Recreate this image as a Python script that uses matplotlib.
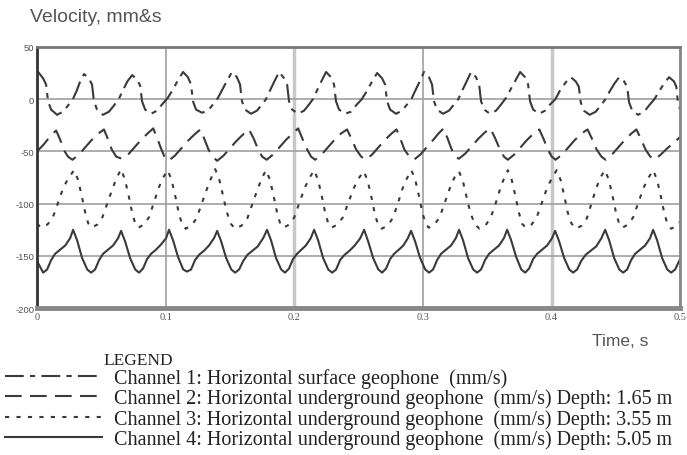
import numpy as np
import matplotlib
matplotlib.use("Agg")
import matplotlib.pyplot as plt

# time in ms, velocity in mm/s
t1_ms = [0, 0.8, 4.6, 7.0, 8.5, 10.9, 15.5, 20.2, 24.1, 27.8, 30.8, 33.5,
         36.5, 40.3, 42.7, 44.2, 46.6, 51.2, 55.9, 59.8, 63.5, 66.5, 70.2,
         73.9, 77.7, 80.1, 81.6, 84.0, 88.6, 93.3, 97.2, 101.5, 105.5, 109.5,
         113.5, 117.3, 119.7, 121.2, 123.6, 128.2, 132.9, 136.8, 140.5, 144.0, 147.8,
         151.6, 155.4, 157.8, 159.3, 161.7, 166.3, 171.0, 174.9, 178.0, 181.0, 184.5,
         188.2, 192.0, 194.4, 195.9, 198.3, 202.9, 207.6, 211.5, 214.5, 217.5, 221.0,
         224.7, 228.5, 230.9, 232.4, 234.8, 239.4, 244.1, 248.0, 252.5, 256.5, 260.5,
         264.4, 268.2, 270.6, 272.1, 274.5, 279.1, 283.8, 287.7, 291.0, 294.0, 297.5,
         300.9, 304.7, 307.1, 308.6, 311.0, 315.6, 320.3, 324.2, 327.5, 330.5, 334.0,
         337.5, 341.3, 343.7, 345.2, 347.6, 352.2, 356.9, 360.8, 364.5, 368.0, 372.0,
         375.6, 379.4, 381.8, 383.3, 385.7, 390.3, 395.0, 398.9, 403.0, 406.5, 411.0,
         415.0, 418.8, 421.2, 422.7, 425.1, 429.7, 434.4, 438.3, 442.0, 445.0, 449.0,
         452.6, 456.4, 458.8, 460.3, 462.7, 467.3, 472.0, 475.9, 480.0, 483.5, 487.5,
         491.4, 495.2, 497.0, 498.3, 500.0]
v1 = [25, 26, 20, 14, -2, -10, -15, -12, -6, 0, 8, 17,
      24, 20, 14, -2, -10, -15, -12, -6, 0, 8, 17,
      23, 19, 13, -2, -10, -14, -11, -5, 1, 9, 18,
      26, 21, 14, -2, -10, -13, -11, -5, 1, 9, 18,
      26, 21, 14, -2, -10, -14, -11, -5, 0, 8, 17,
      26, 20, 14, -2, -10, -14, -11, -5, 0, 8, 17,
      26, 21, 14, -2, -10, -14, -12, -6, 0, 8, 17,
      25, 20, 14, -2, -10, -14, -11, -5, 0, 8, 17,
      26, 21, 14, -2, -10, -14, -11, -5, 0, 8, 17,
      26, 21, 14, -2, -10, -14, -11, -5, 1, 9, 18,
      26, 21, 14, -2, -10, -14, -11, -5, 0, 8, 16,
      21, 17, 12, -3, -11, -15, -12, -6, 0, 7, 15,
      21, 17, 12, -3, -11, -15, -12, -6, 0, 7, 15,
      21, 17, 12, -3, -10]

t2_ms = [0, 5.4, 10.5, 14.8, 18.0, 21.0, 24.0,
         27.5, 32.5, 37.5, 42.5, 47.5, 52.0, 55.0, 58.0, 61.5,
         65.8, 70.8, 75.8, 80.8, 85.8, 90.3, 93.3, 96.3, 99.0,
         102.2, 107.2, 112.2, 117.2, 122.2, 127.0, 130.0, 133.2, 136.5,
         140.0, 145.0, 150.0, 155.0, 160.0, 164.8, 168.5, 171.8, 175.0,
         178.5, 183.5, 188.5, 193.5, 198.5, 203.0, 206.0, 209.5, 213.0,
         216.2, 221.2, 226.2, 231.2, 236.2, 241.0, 244.5, 248.0, 252.0,
         255.5, 260.5, 265.5, 270.5, 275.5, 279.5, 282.5, 285.5, 289.5,
         293.0, 298.0, 303.0, 308.0, 312.0, 316.0, 319.0, 322.0, 325.0,
         328.0, 333.0, 338.0, 343.0, 348.0, 352.5, 356.0, 359.5, 363.0,
         366.0, 371.0, 376.0, 381.0, 386.0, 390.5, 393.8, 397.0, 400.2,
         403.2, 408.2, 413.2, 418.2, 423.2, 428.0, 431.5, 435.0, 438.8,
         442.0, 447.0, 452.0, 457.0, 462.0, 466.0, 469.5, 473.0, 476.8,
         480.0, 485.0, 490.0, 495.0, 500.0]
v2 = [-50, -43, -35, -30, -39, -49, -55,
      -58, -53, -46, -39, -33, -29, -38, -48, -55,
      -57, -53, -46, -39, -33, -28, -37, -47, -55,
      -59, -54, -47, -40, -34, -29, -38, -48, -55,
      -59, -54, -47, -40, -34, -29, -38, -48, -55,
      -58, -53, -46, -39, -33, -28, -37, -47, -55,
      -58, -53, -46, -39, -33, -29, -38, -48, -55,
      -58, -53, -46, -39, -33, -29, -38, -48, -55,
      -58, -53, -46, -39, -33, -28, -37, -47, -55,
      -57, -52, -45, -38, -32, -28, -37, -47, -55,
      -58, -53, -46, -39, -33, -29, -38, -48, -55,
      -58, -53, -46, -39, -33, -29, -38, -48, -55,
      -58, -53, -46, -39, -33, -29, -38, -48, -55,
      -58, -53, -47, -42, -36]

t3_ms = [0, 3.1, 8.0, 12.0, 16.0, 20.0, 24.5,
         28.8, 31.8, 34.8, 37.3, 39.8, 42.3, 46.8, 50.8, 54.8, 58.8, 62.0,
         65.3, 68.3, 71.3, 73.8, 76.3, 78.8, 83.0, 87.0, 90.8, 94.5, 98.0,
         101.5, 104.5, 107.5, 110.0, 112.5, 115.5, 120.0, 124.0, 128.0, 132.0, 135.5,
         138.5, 141.5, 144.5, 147.5, 150.5, 154.0, 159.0, 163.5, 167.5, 171.5, 175.0,
         178.0, 181.0, 184.0, 186.5, 189.0, 191.5, 196.0, 200.0, 204.0, 208.0, 212.0,
         215.4, 218.4, 221.4, 223.9, 226.4, 228.9, 233.5, 237.8, 242.0, 246.3, 250.5,
         254.0, 257.0, 260.0, 262.5, 265.0, 268.0, 272.5, 276.5, 280.5, 284.0, 287.5,
         291.0, 294.0, 297.0, 299.5, 302.0, 304.5, 309.0, 313.0, 317.0, 321.0, 324.5,
         328.0, 331.0, 334.0, 337.0, 340.5, 344.0, 348.5, 352.5, 356.5, 360.0, 363.0,
         366.0, 369.0, 372.0, 374.5, 377.0, 380.0, 384.5, 388.5, 392.5, 396.5, 400.5,
         404.0, 407.0, 410.0, 412.5, 415.5, 419.0, 423.5, 427.5, 431.0, 434.5, 438.0,
         441.5, 444.5, 447.5, 450.0, 452.5, 455.0, 459.5, 463.5, 467.5, 471.5, 475.5,
         479.0, 482.0, 485.0, 487.5, 490.0, 493.0, 497.5, 500.0]
v3 = [-119, -123, -120, -114, -100, -86, -75,
      -68, -77, -93, -108, -119, -123, -120, -113, -99, -85, -75,
      -67, -77, -93, -108, -119, -123, -120, -113, -99, -85, -75,
      -68, -77, -93, -108, -119, -124, -121, -114, -100, -86, -75,
      -67, -76, -92, -108, -119, -124, -121, -114, -100, -86, -75,
      -68, -77, -93, -108, -119, -123, -120, -113, -99, -85, -75,
      -68, -77, -93, -108, -119, -123, -120, -113, -99, -85, -75,
      -69, -78, -94, -109, -120, -124, -121, -114, -100, -86, -76,
      -68, -77, -93, -108, -119, -123, -120, -113, -99, -85, -75,
      -69, -78, -94, -109, -120, -124, -121, -114, -100, -86, -76,
      -68, -77, -93, -108, -119, -123, -120, -113, -99, -85, -75,
      -68, -77, -93, -108, -119, -124, -121, -114, -100, -86, -75,
      -68, -77, -93, -108, -119, -123, -120, -113, -99, -85, -75,
      -68, -77, -93, -108, -119, -124, -121, -117]

t4_ms = [0, 4.7, 7.8, 10.9, 14.0, 17.9, 21.9, 25.7,
         28.0, 31.1, 35.0, 39.0, 42.0, 45.1, 48.2, 51.3, 55.2, 59.1, 63.0,
         65.3, 68.4, 72.3, 76.3, 79.3, 82.4, 85.5, 88.6, 92.5, 96.4, 100.3,
         102.6, 105.7, 109.6, 113.6, 116.6, 119.7, 122.8, 125.9, 129.8, 133.7, 137.6,
         140.0, 143.1, 147.0, 151.0, 154.0, 157.1, 160.2, 163.5, 167.5, 171.5, 175.8,
         178.8, 181.9, 185.8, 189.8, 192.8, 195.9, 199.0, 202.1, 205.5, 209.0, 212.8,
         215.4, 218.5, 222.4, 226.4, 229.4, 232.5, 235.6, 239.0, 243.0, 247.0, 251.3,
         254.3, 257.4, 261.3, 265.3, 268.3, 271.4, 274.5, 277.6, 281.3, 284.8, 288.3,
         290.8, 293.9, 297.8, 301.8, 304.8, 307.9, 311.0, 314.1, 318.0, 321.9, 325.6,
         328.1, 331.2, 335.1, 339.1, 342.1, 345.2, 348.3, 351.4, 355.3, 359.2, 363.0,
         365.5, 368.6, 372.5, 376.5, 379.5, 382.6, 385.7, 388.8, 392.7, 396.6, 400.4,
         402.8, 405.9, 409.8, 413.8, 416.8, 419.9, 423.0, 426.5, 430.5, 434.7, 438.8,
         441.7, 444.8, 448.7, 452.7, 455.7, 458.8, 461.9, 465.0, 468.9, 472.8, 476.6,
         479.0, 482.1, 486.0, 490.0, 493.0, 496.1, 499.2, 500.0]
v4 = [-155, -166, -163, -154, -148, -144, -140, -133,
      -125, -135, -152, -163, -166, -163, -154, -148, -144, -140, -133,
      -126, -136, -152, -163, -166, -162, -153, -148, -144, -139, -133,
      -125, -135, -151, -163, -165, -163, -154, -149, -145, -140, -133,
      -126, -136, -152, -163, -166, -163, -155, -149, -145, -141, -133,
      -125, -135, -152, -163, -166, -162, -153, -148, -144, -140, -133,
      -125, -135, -152, -163, -166, -163, -154, -149, -145, -140, -133,
      -125, -136, -152, -163, -166, -162, -153, -148, -144, -140, -133,
      -126, -136, -152, -163, -166, -163, -154, -148, -144, -140, -133,
      -125, -135, -152, -163, -166, -163, -154, -148, -144, -140, -133,
      -125, -135, -151, -163, -166, -162, -153, -148, -144, -140, -133,
      -126, -136, -152, -163, -166, -163, -155, -149, -145, -141, -133,
      -125, -135, -152, -163, -166, -163, -154, -148, -144, -140, -133,
      -125, -135, -152, -163, -166, -163, -155, -153]

labels = ["Channel 1: Horizontal surface geophone  (mm/s)",
          "Channel 2: Horizontal underground geophone  (mm/s) Depth: 1.65 m",
          "Channel 3: Horizontal underground geophone  (mm/s) Depth: 3.55 m",
          "Channel 4: Horizontal underground geophone  (mm/s) Depth: 5.05 m"]
x_ticks = [0, 0.1, 0.2, 0.3, 0.4, 0.5]
x_ticklabels = ["0", "0.1", "0.2", "0.3", "0.4", "0.5"]
y_ticks = [-200, -150, -100, -50, 0, 50]

line_col = "#3a3a3a"
dashes = [(0, (9, 3, 2.5, 3)), (0, (8, 4)), (0, (2, 3.5)), "-"]

fig = plt.figure(figsize=(6.87, 4.56), dpi=100)
ax = fig.add_axes([0.054, 0.322, 0.936, 0.573])

series = [(t1_ms, v1), (t2_ms, v2), (t3_ms, v3), (t4_ms, v4)]
handles = []
for (tt, vv), ls, lab in zip(series, dashes, labels):
    h, = ax.plot(np.array(tt) / 1000.0, vv, color=line_col, lw=1.5,
                 linestyle=ls, label=lab)
    handles.append(h)

ax.set_xlim(0, 0.5)
ax.set_ylim(-200, 50)
ax.set_xticks(x_ticks)
ax.set_xticklabels(x_ticklabels, family="Liberation Serif", fontsize=7.5,
                   color="#555555")
ax.set_yticks(y_ticks)
ax.set_yticklabels([str(v) for v in y_ticks], family="Liberation Sans",
                   fontsize=6.8, color="#555555")
ax.tick_params(length=0, pad=2)
ax.tick_params(axis="x", pad=3)
ax.grid(True, color="#a0a0a0", lw=1.2)
ax.set_axisbelow(True)
# the 0.2 and 0.4 gridlines are paler and wider in the original
xg = ax.get_xgridlines()
for i in (2, 4):
    xg[i].set_color("#c8c8c8")
    xg[i].set_linewidth(2.5)

ax.spines["left"].set_color("#333333")
ax.spines["left"].set_linewidth(2)
ax.spines["top"].set_color("#777777")
ax.spines["top"].set_linewidth(2)
ax.spines["right"].set_color("#888888")
ax.spines["right"].set_linewidth(2)
ax.spines["bottom"].set_color("#888888")
ax.spines["bottom"].set_linewidth(3.5)

fig.text(30 / 687, 1 - 18 / 456, "Velocity, mm&s", family="Liberation Sans",
         fontsize=14, color="#555555", va="center", ha="left")
fig.text(592 / 687, 1 - 341 / 456, "Time, s", family="Liberation Sans",
         fontsize=12.5, color="#555555", va="center", ha="left")
fig.text(103 / 687, 1 - 361 / 456, "LEGEND", family="Liberation Serif",
         fontsize=12.5, color="#222222", va="center", ha="left")

leg = fig.legend(handles=handles, loc="upper left",
                 bbox_to_anchor=(5 / 687, 1 - 369 / 456),
                 frameon=False, borderpad=0, borderaxespad=0,
                 handlelength=4.8, handletextpad=0.6, labelspacing=0.03,
                 prop={"family": "Liberation Serif", "size": 14.5})
for txt in leg.get_texts():
    txt.set_color("#222222")

fig.savefig("out.png", dpi=100)
